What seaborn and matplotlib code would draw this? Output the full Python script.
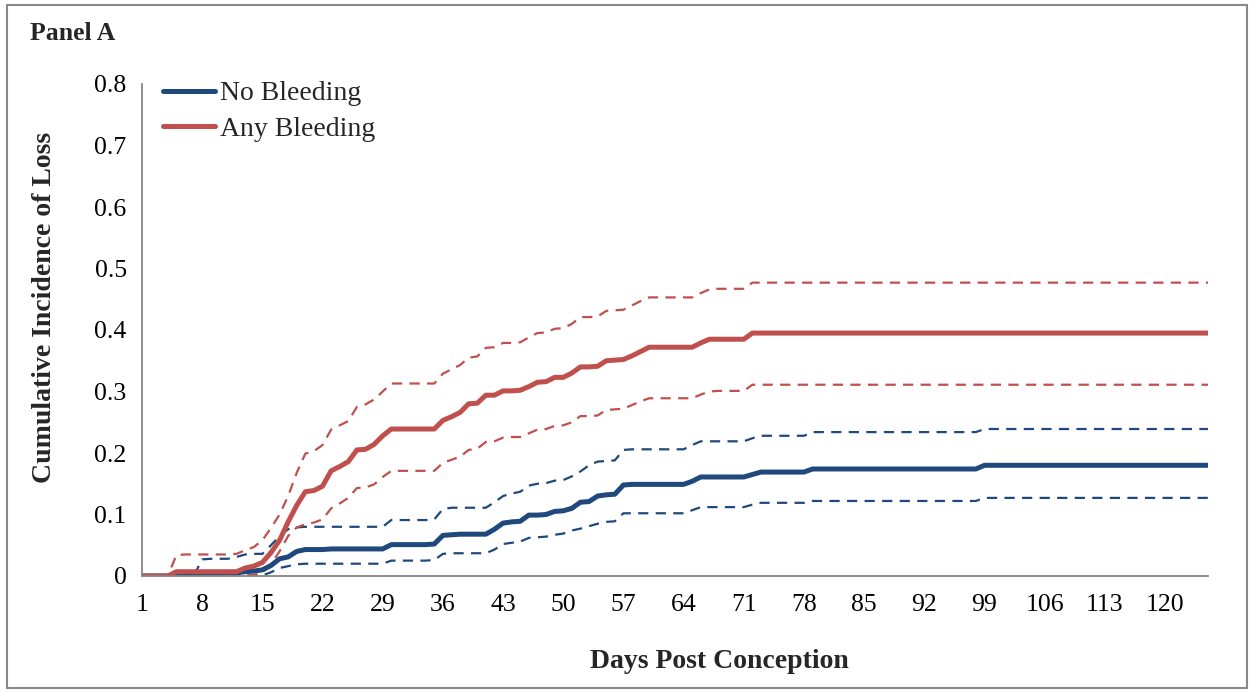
import numpy as np
import pandas as pd
import seaborn as sns
import matplotlib
matplotlib.use("Agg")
import matplotlib.pyplot as plt
from matplotlib.patches import Rectangle

# ---- data: cumulative incidence of loss by day post conception ----
days = list(range(1, 126))

no_bleed_est = (
    [0, 0, 0, 0, 0, 0, 0.001, 0.005, 0.005, 0.005, 0.005, 0.005, 0.007, 0.008, 0.010,
     0.017, 0.028, 0.031, 0.040, 0.043, 0.043, 0.043, 0.044, 0.044, 0.044, 0.044, 0.044, 0.044, 0.044, 0.051,
     0.051, 0.051, 0.051, 0.051, 0.052, 0.066, 0.067, 0.068, 0.068, 0.068, 0.068, 0.076, 0.086, 0.088, 0.089,
     0.099, 0.099, 0.100, 0.105, 0.106, 0.110, 0.120, 0.121, 0.130, 0.132, 0.133, 0.148, 0.149, 0.149, 0.149,
     0.149, 0.149, 0.149, 0.149, 0.154, 0.161, 0.161, 0.161, 0.161, 0.161, 0.161, 0.165, 0.169, 0.169, 0.169,
     0.169, 0.169, 0.169, 0.174, 0.174, 0.174, 0.174, 0.174, 0.174, 0.174, 0.174, 0.174, 0.174, 0.174, 0.174,
     0.174, 0.174, 0.174, 0.174, 0.174, 0.174, 0.174, 0.174, 0.180, 0.180, 0.180, 0.180, 0.180, 0.180, 0.180,
     0.180, 0.180, 0.180, 0.180, 0.180, 0.180, 0.180, 0.180, 0.180, 0.180, 0.180, 0.180, 0.180, 0.180, 0.180,
     0.180, 0.180, 0.180, 0.180, 0.180]
)
no_bleed_hi = (
    [0, 0, 0, 0, 0, 0, 0, 0.027, 0.028, 0.028, 0.028, 0.031, 0.035, 0.036, 0.036,
     0.050, 0.065, 0.076, 0.079, 0.080, 0.080, 0.080, 0.080, 0.080, 0.080, 0.080, 0.080, 0.080, 0.080, 0.091,
     0.091, 0.091, 0.091, 0.091, 0.092, 0.109, 0.111, 0.111, 0.111, 0.111, 0.111, 0.120, 0.130, 0.134, 0.137,
     0.147, 0.150, 0.151, 0.155, 0.156, 0.162, 0.170, 0.180, 0.186, 0.187, 0.188, 0.205, 0.206, 0.206, 0.206,
     0.206, 0.206, 0.206, 0.206, 0.213, 0.219, 0.219, 0.219, 0.219, 0.219, 0.219, 0.224, 0.228, 0.228, 0.228,
     0.228, 0.228, 0.228, 0.234, 0.234, 0.234, 0.234, 0.234, 0.234, 0.234, 0.234, 0.234, 0.234, 0.234, 0.234,
     0.234, 0.234, 0.234, 0.234, 0.234, 0.234, 0.234, 0.234, 0.239, 0.239, 0.239, 0.239, 0.239, 0.239, 0.239,
     0.239, 0.239, 0.239, 0.239, 0.239, 0.239, 0.239, 0.239, 0.239, 0.239, 0.239, 0.239, 0.239, 0.239, 0.239,
     0.239, 0.239, 0.239, 0.239, 0.239]
)
no_bleed_lo = (
    [0, 0, 0, 0, 0, 0, 0, 0, 0, 0, 0, 0, 0, 0, 0.001,
     0.006, 0.013, 0.016, 0.019, 0.020, 0.020, 0.020, 0.020, 0.020, 0.020, 0.020, 0.020, 0.020, 0.020, 0.025,
     0.025, 0.025, 0.025, 0.025, 0.026, 0.036, 0.037, 0.037, 0.037, 0.037, 0.037, 0.043, 0.052, 0.054, 0.056,
     0.062, 0.063, 0.064, 0.067, 0.069, 0.074, 0.077, 0.081, 0.085, 0.088, 0.089, 0.102, 0.102, 0.102, 0.102,
     0.102, 0.102, 0.102, 0.102, 0.107, 0.112, 0.112, 0.112, 0.112, 0.112, 0.112, 0.116, 0.119, 0.119, 0.119,
     0.119, 0.119, 0.119, 0.122, 0.122, 0.122, 0.122, 0.122, 0.122, 0.122, 0.122, 0.122, 0.122, 0.122, 0.122,
     0.122, 0.122, 0.122, 0.122, 0.122, 0.122, 0.122, 0.122, 0.127, 0.127, 0.127, 0.127, 0.127, 0.127, 0.127,
     0.127, 0.127, 0.127, 0.127, 0.127, 0.127, 0.127, 0.127, 0.127, 0.127, 0.127, 0.127, 0.127, 0.127, 0.127,
     0.127, 0.127, 0.127, 0.127, 0.127]
)

any_bleed_est = (
    [0, 0, 0, 0, 0.007, 0.007, 0.007, 0.007, 0.007, 0.007, 0.007, 0.007, 0.013, 0.016, 0.022,
     0.038, 0.058, 0.088, 0.115, 0.137, 0.139, 0.146, 0.171, 0.178, 0.186, 0.205, 0.206, 0.214, 0.228, 0.239,
     0.239, 0.239, 0.239, 0.239, 0.239, 0.253, 0.259, 0.266, 0.280, 0.281, 0.294, 0.294, 0.301, 0.301, 0.302,
     0.308, 0.315, 0.316, 0.323, 0.323, 0.330, 0.340, 0.340, 0.341, 0.350, 0.351, 0.352, 0.358, 0.365, 0.372,
     0.372, 0.372, 0.372, 0.372, 0.372, 0.379, 0.385, 0.385, 0.385, 0.385, 0.385, 0.395, 0.395, 0.395, 0.395,
     0.395, 0.395, 0.395, 0.395, 0.395, 0.395, 0.395, 0.395, 0.395, 0.395, 0.395, 0.395, 0.395, 0.395, 0.395,
     0.395, 0.395, 0.395, 0.395, 0.395, 0.395, 0.395, 0.395, 0.395, 0.395, 0.395, 0.395, 0.395, 0.395, 0.395,
     0.395, 0.395, 0.395, 0.395, 0.395, 0.395, 0.395, 0.395, 0.395, 0.395, 0.395, 0.395, 0.395, 0.395, 0.395,
     0.395, 0.395, 0.395, 0.395, 0.395]
)
any_bleed_hi = (
    [0, 0, 0, 0, 0.034, 0.035, 0.035, 0.035, 0.035, 0.035, 0.035, 0.036, 0.042, 0.047, 0.058,
     0.078, 0.100, 0.130, 0.168, 0.199, 0.203, 0.213, 0.238, 0.245, 0.252, 0.275, 0.279, 0.287, 0.300, 0.313,
     0.313, 0.313, 0.313, 0.313, 0.313, 0.329, 0.336, 0.343, 0.355, 0.357, 0.371, 0.372, 0.379, 0.379, 0.380,
     0.388, 0.395, 0.396, 0.402, 0.403, 0.410, 0.421, 0.421, 0.422, 0.431, 0.432, 0.433, 0.440, 0.447, 0.453,
     0.453, 0.453, 0.453, 0.453, 0.453, 0.460, 0.466, 0.467, 0.467, 0.467, 0.467, 0.477, 0.477, 0.477, 0.477,
     0.477, 0.477, 0.477, 0.477, 0.477, 0.477, 0.477, 0.477, 0.477, 0.477, 0.477, 0.477, 0.477, 0.477, 0.477,
     0.477, 0.477, 0.477, 0.477, 0.477, 0.477, 0.477, 0.477, 0.477, 0.477, 0.477, 0.477, 0.477, 0.477, 0.477,
     0.477, 0.477, 0.477, 0.477, 0.477, 0.477, 0.477, 0.477, 0.477, 0.477, 0.477, 0.477, 0.477, 0.477, 0.477,
     0.477, 0.477, 0.477, 0.477, 0.477]
)
any_bleed_lo = (
    [0, 0, 0, 0, 0, 0, 0, 0, 0, 0, 0, 0, 0.001, 0.002, 0.005,
     0.019, 0.040, 0.065, 0.079, 0.084, 0.087, 0.092, 0.110, 0.118, 0.127, 0.143, 0.144, 0.149, 0.161, 0.171,
     0.171, 0.171, 0.171, 0.171, 0.171, 0.184, 0.189, 0.194, 0.205, 0.207, 0.218, 0.219, 0.225, 0.226, 0.226,
     0.232, 0.238, 0.239, 0.244, 0.245, 0.250, 0.260, 0.260, 0.261, 0.270, 0.271, 0.272, 0.278, 0.284, 0.289,
     0.289, 0.289, 0.289, 0.289, 0.289, 0.295, 0.300, 0.301, 0.301, 0.301, 0.301, 0.311, 0.311, 0.311, 0.311,
     0.311, 0.311, 0.311, 0.311, 0.311, 0.311, 0.311, 0.311, 0.311, 0.311, 0.311, 0.311, 0.311, 0.311, 0.311,
     0.311, 0.311, 0.311, 0.311, 0.311, 0.311, 0.311, 0.311, 0.311, 0.311, 0.311, 0.311, 0.311, 0.311, 0.311,
     0.311, 0.311, 0.311, 0.311, 0.311, 0.311, 0.311, 0.311, 0.311, 0.311, 0.311, 0.311, 0.311, 0.311, 0.311,
     0.311, 0.311, 0.311, 0.311, 0.311]
)

x_ticks = list(range(1, 121, 7))
y_ticks = [0, 0.1, 0.2, 0.3, 0.4, 0.5, 0.6, 0.7, 0.8]
y_tick_labels = ["0", "0.1", "0.2", "0.3", "0.4", "0.5", "0.6", "0.7", "0.8"]

BLUE = "#1F497D"
RED = "#C0504D"
AXIS_GREY = "#868686"

sns.set_theme(style="white")
plt.rcParams["font.family"] = ["Liberation Serif", "DejaVu Serif"]
plt.rcParams["lines.solid_capstyle"] = "round"

fig = plt.figure(figsize=(12.53, 6.93), dpi=100)
W, H = 1253, 693
# axes box in pixel terms: x from 142 to 1208, y from 84 (top) to 576 (bottom)
ax = fig.add_axes([142 / W, 1 - 576 / H, (1208 - 142) / W, (576 - 84) / H])

frames = []
for name, vals in [("no_est", no_bleed_est), ("no_hi", no_bleed_hi), ("no_lo", no_bleed_lo),
                   ("any_est", any_bleed_est), ("any_hi", any_bleed_hi), ("any_lo", any_bleed_lo)]:
    frames.append(pd.DataFrame({"day": days, "value": vals, "series": name}))
df = pd.concat(frames, ignore_index=True)

# confidence bounds as thin dashed lines
dash = (4.6, 3.3)
for name, color in [("no_hi", BLUE), ("no_lo", BLUE), ("any_hi", RED), ("any_lo", RED)]:
    sns.lineplot(data=df[df.series == name], x="day", y="value", color=color,
                 linewidth=1.6, dashes=False, ax=ax, legend=False)
    ax.lines[-1].set_dashes(dash)
    ax.lines[-1].set_dash_capstyle("butt")

# point estimates as heavy solid lines
sns.lineplot(data=df[df.series == "no_est"], x="day", y="value", color=BLUE,
             linewidth=3.6, ax=ax, label="No Bleeding")
sns.lineplot(data=df[df.series == "any_est"], x="day", y="value", color=RED,
             linewidth=3.6, ax=ax, label="Any Bleeding")

ax.set_xlim(1, 125)
ax.set_ylim(0, 0.8)
ax.set_xticks(x_ticks)
ax.set_xticklabels([str(t) for t in x_ticks])
ax.set_yticks(y_ticks)
ax.set_yticklabels(y_tick_labels)

for side in ["top", "right"]:
    ax.spines[side].set_visible(False)
for side in ["left", "bottom"]:
    ax.spines[side].set_color(AXIS_GREY)
    ax.spines[side].set_linewidth(1.3)

ax.tick_params(axis="both", which="major", direction="out", length=6, width=1.3,
               color=AXIS_GREY, labelsize=18.5, labelcolor="black")
ax.tick_params(axis="x", pad=7)
ax.tick_params(axis="y", pad=5)
ax.grid(False)

ax.set_xlabel("Days Post Conception", fontsize=20, fontweight="bold")
ax.set_ylabel("Cumulative Incidence of Loss", fontsize=20, fontweight="bold")
ax.xaxis.label.set_verticalalignment("center")
ax.xaxis.set_label_coords((719 - 142) / (1208 - 142), -(661 - 576) / (576 - 84))
ax.yaxis.set_label_coords(-(142 - 45) / (1208 - 142), (576 - 307) / (576 - 84))
ax.yaxis.label.set_verticalalignment("center")

leg = ax.legend(loc="upper left", bbox_to_anchor=(163 / W, 1 - 81 / H),
                bbox_transform=fig.transFigure, frameon=False, fontsize=20,
                handlelength=1.87, handletextpad=0.18, labelspacing=0.36,
                borderpad=0, borderaxespad=0)
for line in leg.get_lines():
    line.set_linewidth(3.6)
    line.set_solid_capstyle("round")

fig.text(30 / W, 1 - 33 / H, "Panel A", fontsize=18.5, fontweight="bold",
         ha="left", va="center")

# thin grey frame around the whole chart area
fig.patches.append(Rectangle((7 / W, 5 / H), (1247 - 7) / W, (688 - 5) / H,
                             transform=fig.transFigure, fill=False,
                             edgecolor="#898989", linewidth=1.5))

fig.savefig("out.png", dpi=100)
